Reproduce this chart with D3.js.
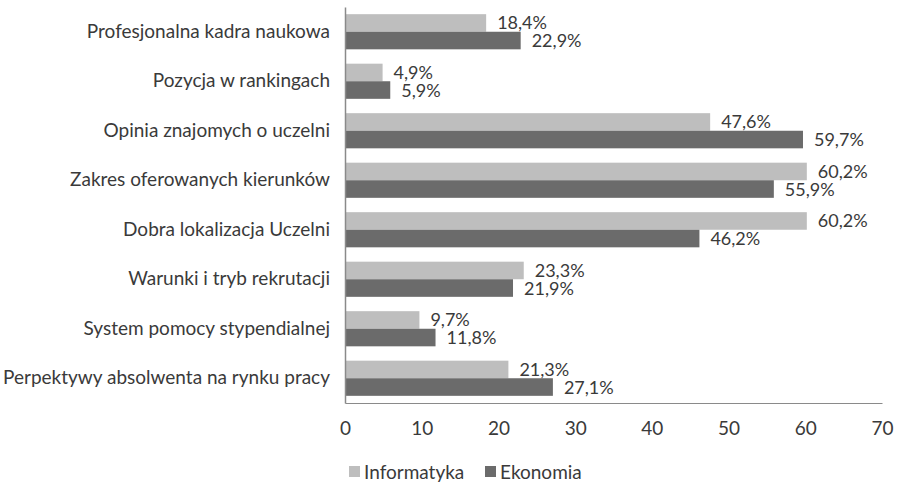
<!DOCTYPE html>
<html>
<head>
<meta charset="utf-8">
<script src="https://cdn.jsdelivr.net/npm/d3@7"></script>
<style>
  body { margin: 0; background: #fff; }
  svg text { font-family: Lato, "Open Sans", sans-serif; fill: #3a3a3a; }
</style>
</head>
<body>
<svg class="chart" width="903" height="482"></svg>
<script>
const categories = [
    "Profesjonalna kadra naukowa",
    "Pozycja w rankingach",
    "Opinia znajomych o uczelni",
    "Zakres oferowanych kierunków",
    "Dobra lokalizacja Uczelni",
    "Warunki i tryb rekrutacji",
    "System pomocy stypendialnej",
    "Perpektywy absolwenta na rynku pracy"
];
const series = ["Informatyka", "Ekonomia"];
const informatyka = [18.4, 4.9, 47.6, 60.2, 60.2, 23.3, 9.7, 21.3];
const ekonomia = [22.9, 5.9, 59.7, 55.9, 46.2, 21.9, 11.8, 27.1];
const xTicks = [0, 10, 20, 30, 40, 50, 60, 70];
const colors = ["#bebebe", "#6b6b6b"];

const svg = d3.select("svg.chart");
const fontSize = 19;
const labelSize = 18;

const rows = categories.map((c, i) => ({
    cat: c,
    vals: [
        { key: series[0], value: informatyka[i] },
        { key: series[1], value: ekonomia[i] }
    ]
}));

const xScale = d3.scaleLinear().domain([0, 70]).range([345, 882]);
const yScale = d3.scaleBand()
    .domain(categories)
    .range([7, 403])
    .paddingInner(0.29)
    .paddingOuter(0.145);
const subScale = d3.scaleBand()
    .domain(series)
    .range([0, yScale.bandwidth()]);
const colorScale = d3.scaleOrdinal().domain(series).range(colors);

// bars
const groups = svg.selectAll("g.row").data(rows)
    .enter().append("g")
    .attr("class", "row")
    .attr("transform", d => `translate(0, ${yScale(d.cat)})`);

groups.selectAll("rect").data(d => d.vals)
    .enter().append("rect")
    .attr("x", xScale(0))
    .attr("y", d => subScale(d.key))
    .attr("width", d => xScale(d.value) - xScale(0))
    .attr("height", subScale.bandwidth())
    .attr("fill", d => colorScale(d.key));

groups.selectAll("text").data(d => d.vals)
    .enter().append("text")
    .attr("x", d => xScale(d.value) + 11)
    .attr("y", d => subScale(d.key) + subScale.bandwidth() / 2)
    .attr("dy", "0.36em")
    .style("font-size", labelSize + "px")
    .text(d => d.value.toFixed(1).replace(".", ",") + "%");

// y axis
const yAxis = svg.append("g")
    .attr("transform", `translate(${xScale(0)}, 0)`)
    .call(d3.axisLeft(yScale).tickSize(0).tickPadding(15));
yAxis.select(".domain").attr("stroke", "#8a8a8a").attr("stroke-width", 1.5);
yAxis.selectAll("text")
    .style("font-size", fontSize + "px")
    .attr("fill", null);

// x axis
const xAxis = svg.append("g")
    .attr("transform", `translate(0, 403)`)
    .call(d3.axisBottom(xScale).tickValues(xTicks).tickSize(0).tickPadding(19));
xAxis.select(".domain").attr("stroke", "#8a8a8a");
xAxis.selectAll("text")
    .style("font-size", fontSize + "px")
    .attr("fill", null);

// legend
const legendX = [349, 485];
const legend = svg.selectAll("g.legend").data(series)
    .enter().append("g")
    .attr("class", "legend")
    .attr("transform", (d, i) => `translate(${legendX[i]}, 466)`);
legend.append("rect")
    .attr("width", 11).attr("height", 11)
    .attr("fill", d => colorScale(d));
legend.append("text")
    .attr("x", 15).attr("y", 6).attr("dy", "0.35em")
    .style("font-size", fontSize + "px")
    .text(d => d);
</script>
</body>
</html>
